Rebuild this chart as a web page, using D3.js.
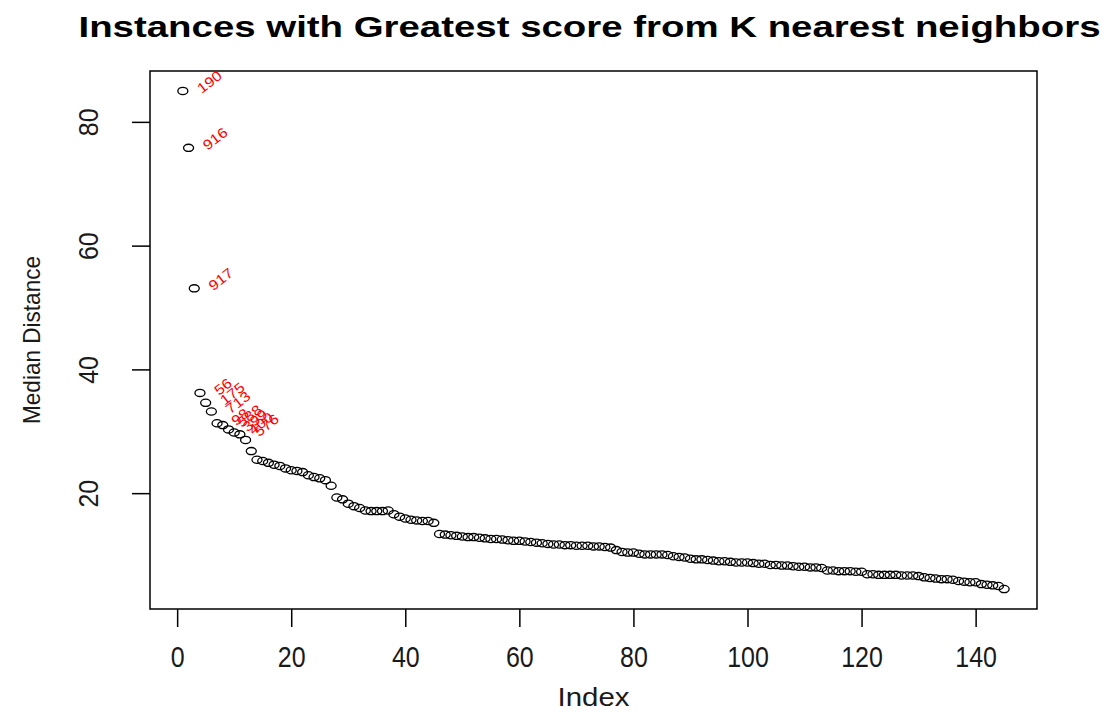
<!DOCTYPE html>
<html>
<head>
<meta charset="utf-8">
<script src="https://cdn.jsdelivr.net/npm/d3@7"></script>
<style>
  html, body { margin: 0; padding: 0; background: #fff; }
  svg text { font-family: "Liberation Sans", Arial, sans-serif; }
</style>
</head>
<body>
<svg id="chart" width="1118" height="712"></svg>
<script>
// ---- data ----
const title = "Instances with Greatest score from K nearest neighbors";
const xLabel = "Index";
const yLabel = "Median Distance";
const xTicks = [0, 20, 40, 60, 80, 100, 120, 140];
const yTicks = [20, 40, 60, 80];
const medianDistance = [
  85.0, 75.8, 53.1, 36.2, 34.6, 33.2, 31.3, 31.0, 30.3, 29.8,
  29.5, 28.6, 26.8, 25.4, 25.2, 24.9, 24.6, 24.4, 24.0, 23.7,
  23.6, 23.4, 22.9, 22.6, 22.4, 22.1, 21.2, 19.3, 19.0, 18.3,
  17.9, 17.6, 17.2, 17.1, 17.1, 17.1, 17.2, 16.6, 16.2, 15.9,
  15.7, 15.6, 15.5, 15.5, 15.2, 13.4, 13.3, 13.2, 13.1, 13.0,
  12.9, 12.9, 12.8, 12.7, 12.6, 12.6, 12.5, 12.4, 12.3, 12.3,
  12.2, 12.1, 12.0, 11.9, 11.8, 11.7, 11.7, 11.6, 11.6, 11.5,
  11.5, 11.5, 11.4, 11.4, 11.3, 11.2, 10.8, 10.5, 10.4, 10.4,
  10.2, 10.1, 10.1, 10.1, 10.1, 10.0, 9.8, 9.7, 9.6, 9.4,
  9.3, 9.3, 9.2, 9.1, 9.0, 9.0, 8.9, 8.8, 8.8, 8.8,
  8.7, 8.6, 8.6, 8.4, 8.4, 8.3, 8.3, 8.2, 8.1, 8.1,
  8.0, 8.0, 7.9, 7.5, 7.5, 7.4, 7.4, 7.4, 7.3, 7.3,
  6.9, 6.9, 6.8, 6.8, 6.8, 6.8, 6.7, 6.7, 6.7, 6.6,
  6.4, 6.3, 6.2, 6.1, 6.1, 6.0, 5.8, 5.7, 5.6, 5.6,
  5.3, 5.2, 5.1, 5.0, 4.5
];
const outlierLabels = ["190", "916", "917", "56", "175", "713", "98", "588", "399", "400", "576"];

// ---- layout ----
const svg = d3.select("#chart");
const box = { left: 150, right: 1037, top: 71, bottom: 609 };

const points = medianDistance.map((v, i) => ({ i: i + 1, v }));
const xr = [1, points.length];
const xPad = (xr[1] - xr[0]) * 0.04;
const yr = d3.extent(medianDistance);
const yPad = (yr[1] - yr[0]) * 0.04;

const x = d3.scaleLinear().domain([xr[0] - xPad, xr[1] + xPad]).range([box.left, box.right]);
const y = d3.scaleLinear().domain([yr[0] - yPad, yr[1] + yPad]).range([box.bottom, box.top]);

const textColor = "#1a1a1a";

// title
svg.append("text")
  .attr("x", (box.left + box.right) / 2 - 4)
  .attr("y", 37)
  .attr("text-anchor", "middle")
  .attr("font-size", 29)
  .attr("font-weight", "bold")
  .attr("fill", "#000")
  .attr("textLength", 1022)
  .attr("lengthAdjust", "spacingAndGlyphs")
  .text(title);

// plot box
svg.append("rect")
  .attr("x", box.left).attr("y", box.top)
  .attr("width", box.right - box.left).attr("height", box.bottom - box.top)
  .attr("fill", "none").attr("stroke", "#000").attr("stroke-width", 1.5);

// x axis
const xAxis = d3.axisBottom(x).tickValues(xTicks).tickSize(18).tickPadding(0).tickFormat(d3.format("d"));
const gx = svg.append("g").attr("transform", `translate(0,${box.bottom})`).call(xAxis);
gx.select(".domain").remove();
gx.selectAll(".tick line").attr("stroke", "#000").attr("stroke-width", 1.5);
gx.selectAll(".tick text")
  .attr("y", null).attr("dy", null)
  .attr("font-size", 25)
  .attr("fill", textColor)
  .attr("transform", "translate(0,58) scale(1,1.18)");

// y axis
const yAxis = d3.axisLeft(y).tickValues(yTicks).tickSize(18).tickPadding(0).tickFormat(d3.format("d"));
const gy = svg.append("g").attr("transform", `translate(${box.left},0)`).call(yAxis);
gy.select(".domain").remove();
gy.selectAll(".tick line").attr("stroke", "#000").attr("stroke-width", 1.5);
gy.selectAll(".tick text")
  .attr("x", null).attr("dy", null)
  .attr("text-anchor", "middle")
  .attr("font-size", 25)
  .attr("fill", textColor)
  .attr("transform", "translate(-52,0) rotate(-90) scale(1,1.12)");

// axis titles
svg.append("text")
  .attr("x", (box.left + box.right) / 2)
  .attr("y", 706)
  .attr("text-anchor", "middle")
  .attr("font-size", 25)
  .attr("fill", textColor)
  .attr("textLength", 72)
  .attr("lengthAdjust", "spacingAndGlyphs")
  .text(xLabel);

svg.append("text")
  .attr("transform", `translate(40,${(box.top + box.bottom) / 2}) rotate(-90)`)
  .attr("text-anchor", "middle")
  .attr("font-size", 24)
  .attr("fill", textColor)
  .attr("textLength", 168)
  .attr("lengthAdjust", "spacingAndGlyphs")
  .text(yLabel);

// points
svg.append("g").selectAll("ellipse")
  .data(points)
  .join("ellipse")
  .attr("cx", d => x(d.i))
  .attr("cy", d => y(d.v))
  .attr("rx", 5)
  .attr("ry", 3.6)
  .attr("fill", "none")
  .attr("stroke", "#000")
  .attr("stroke-width", 1.3);

// red outlier labels
svg.append("g").selectAll("text")
  .data(points.slice(0, outlierLabels.length))
  .join("text")
  .attr("transform", d => `translate(${x(d.i) + 19},${y(d.v) + 3}) rotate(-38) scale(1.15,1)`)
  .attr("font-size", 14)
  .attr("fill", "#ff0000")
  .text((d, k) => outlierLabels[k]);
</script>
</body>
</html>
